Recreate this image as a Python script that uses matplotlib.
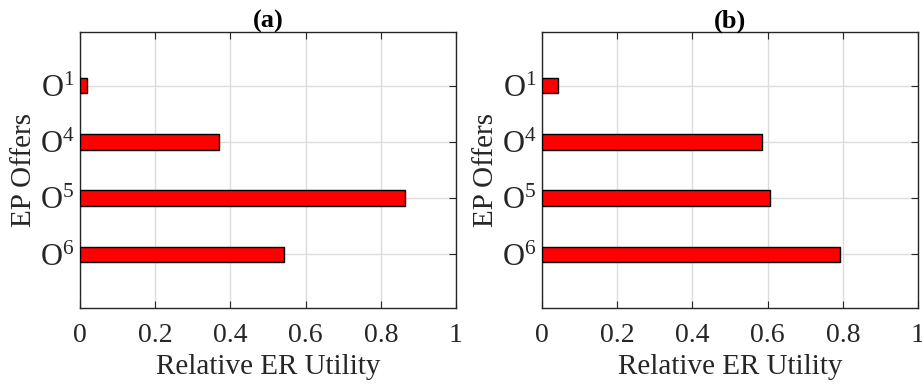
import numpy as np
import matplotlib.pyplot as plt

plt.rcParams['font.family'] = ['Liberation Serif', 'DejaVu Serif']
plt.rcParams['mathtext.fontset'] = 'custom'
plt.rcParams['mathtext.rm'] = 'Liberation Serif'
plt.rcParams['mathtext.it'] = 'Liberation Serif:italic'

offers = [r'$\mathrm{O}^{6}$', r'$\mathrm{O}^{5}$', r'$\mathrm{O}^{4}$', r'$\mathrm{O}^{1}$']
util_a = [0.543, 0.864, 0.371, 0.018]
util_b = [0.793, 0.606, 0.586, 0.043]
titles = ['(a)', '(b)']

txt = '#262626'
fig = plt.figure(figsize=(9.22, 3.85), dpi=100)
lefts = [80 / 922, 542 / 922]
for left, vals, ttl in zip(lefts, [util_a, util_b], titles):
    ax = fig.add_axes([left, 1 - 308 / 385, 376 / 922, 276 / 385])
    pos = np.arange(1, len(offers) + 1)
    ax.barh(pos, vals, height=0.28, color='#ff0000', edgecolor='black', linewidth=1.0, zorder=3)
    ax.set_xlim(0, 1)
    ax.set_ylim(0.05, 4.95)
    ax.set_yticks(pos)
    ax.set_yticklabels(offers)
    ax.set_xticks([0, 0.2, 0.4, 0.6, 0.8, 1])
    ax.set_xticklabels(['0', '0.2', '0.4', '0.6', '0.8', '1'])
    ax.grid(True, color='#dcdcdc', linewidth=1.0, zorder=0)
    ax.set_axisbelow(True)
    ax.tick_params(direction='in', length=5, width=0.8, colors=txt, labelsize=20,
                   right=True, top=True, pad=11)
    ax.tick_params(axis='y', labelsize=22, pad=4)
    for s in ax.spines.values():
        s.set_color(txt)
        s.set_linewidth(1.0)
    ax.set_xlabel('Relative ER Utility', fontsize=21, color=txt, labelpad=4)
    ax.set_ylabel('EP Offers', fontsize=21, color=txt, labelpad=2)
    ax.set_title(ttl, fontsize=19, fontweight='bold', color='black', pad=3)

fig.savefig('out.png', dpi=100)
